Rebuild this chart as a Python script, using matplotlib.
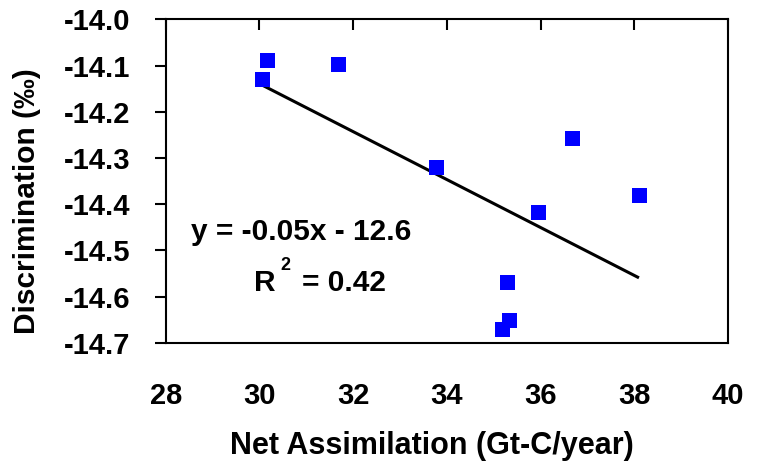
import numpy as np
import matplotlib
matplotlib.use("Agg")
import matplotlib.pyplot as plt
from matplotlib.ticker import FormatStrFormatter

# ---- data ----
net_assimilation = [30.16, 30.05, 31.68, 33.76, 35.95, 38.10, 35.29, 35.32, 35.18, 36.67]
discrimination = [-14.088, -14.130, -14.097, -14.319, -14.418, -14.380, -14.569, -14.651, -14.671, -14.258]
x_ticks = [28, 30, 32, 34, 36, 38, 40]
y_ticks = [-14.7, -14.6, -14.5, -14.4, -14.3, -14.2, -14.1, -14.0]
x_label = "Net Assimilation (Gt-C/year)"
y_label = "Discrimination (\u2030)"
eq_text = "y = -0.05x - 12.6"
r2_parts = ["R", "2", "= 0.42"]

plt.rcParams["font.family"] = ["Liberation Sans", "DejaVu Sans"]
plt.rcParams["font.weight"] = "bold"
plt.rcParams["axes.unicode_minus"] = False

W, H = 758, 461
fig = plt.figure(figsize=(W / 100, H / 100), dpi=100, facecolor="white")
L, R, T, B = 165.7, 728.0, 19.3, 342.7
ax = fig.add_axes([L / W, (H - B) / H, (R - L) / W, (B - T) / H])


def fx(px):
    return px / W


def fy(py):
    return 1 - py / H


ax.set_xlim(x_ticks[0], x_ticks[-1])
ax.set_ylim(y_ticks[0], y_ticks[-1])

# trend line from least-squares fit
xs = np.array(net_assimilation)
ys = np.array(discrimination)
slope, intercept = np.polyfit(xs, ys, 1)
xl = np.array([xs.min(), xs.max()])
ax.plot(xl, slope * xl + intercept, color="black", lw=2.2, zorder=2,
        solid_capstyle="butt")

ax.plot(net_assimilation, discrimination, linestyle="none", marker="s",
        markersize=10.8, markerfacecolor="#0000FF", markeredgewidth=0,
        zorder=3, clip_on=False)

ax.set_xticks(x_ticks)
ax.set_yticks(y_ticks)
ax.yaxis.set_major_formatter(FormatStrFormatter("%.1f"))

for s in ax.spines.values():
    s.set_linewidth(1.5)
    s.set_color("black")

ax.tick_params(axis="x", top=True, bottom=False, direction="in", length=8,
               width=1.5, labelsize=21, pad=28.5, labeltop=False,
               labelbottom=True)
ax.tick_params(axis="y", left=True, right=False, direction="out", length=8,
               width=1.5, labelsize=21, pad=17.5)
for lab in ax.get_xticklabels() + ax.get_yticklabels():
    lab.set_fontweight("bold")

ax.set_xlabel(x_label, fontsize=22, fontweight="bold", ha="left",
              va="baseline")
ax.xaxis.set_label_coords((230.4 - L) / (R - L), (B - 454) / (B - T))
ax.set_ylabel(y_label, fontsize=21.5, fontweight="bold", va="center",
              ha="center")
ax.yaxis.set_label_coords((26.6 - L) / (R - L), (B - 200.7) / (B - T))

fig.text(fx(190.8), fy(240), eq_text, fontsize=21.5, fontweight="bold",
         ha="left", va="baseline")
fig.text(fx(254.5), fy(290.7), r2_parts[0], fontsize=21.5, fontweight="bold",
         ha="left", va="baseline")
fig.text(fx(280.5), fy(270), r2_parts[1], fontsize=13, fontweight="bold",
         ha="left", va="baseline")
fig.text(fx(302), fy(290.7), r2_parts[2], fontsize=21.5, fontweight="bold",
         ha="left", va="baseline")

fig.savefig("out.png", dpi=100, facecolor="white")
